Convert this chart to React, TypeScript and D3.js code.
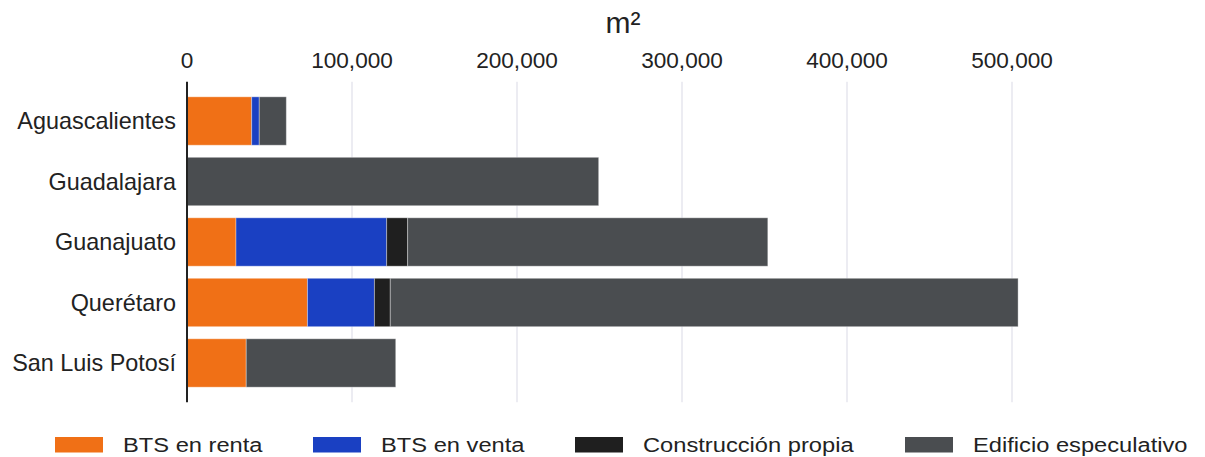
import React from "react";
import * as d3 from "d3";

const categories = ["Aguascalientes", "Guadalajara", "Guanajuato", "Querétaro", "San Luis Potosí"];
const seriesNames = ["BTS en renta", "BTS en venta", "Construcción propia", "Edificio especulativo"];
const btsRenta = [39200, 0, 29700, 73000, 35900];
const btsVenta = [4600, 0, 91300, 40600, 0];
const construccionPropia = [0, 0, 12700, 9600, 0];
const edificioEspeculativo = [16400, 249500, 218300, 380500, 90600];
const tickValues = [0, 100000, 200000, 300000, 400000, 500000];
const colors = ["#f07016", "#1a40c2", "#1f1f1f", "#4a4d50"];
const axisTitle = "m²";

export default function App() {
  const W = 1205, H = 457;
  const x = d3.scaleLinear().domain([0, 530000]).range([187, 1061.5]);
  const y = d3.scaleBand<string>().domain(categories).range([81.7, 402.3]).paddingInner(0.2).paddingOuter(0.25);
  const table = categories.map((c, i) => ({
    cat: c,
    s0: btsRenta[i],
    s1: btsVenta[i],
    s2: construccionPropia[i],
    s3: edificioEspeculativo[i],
  }));
  const stack = d3.stack<any>().keys(["s0", "s1", "s2", "s3"])(table);
  const fmt = d3.format(",");
  const font = "'Liberation Sans', Arial, sans-serif";
  const legendX = [55, 313, 575, 905];

  return (
    <svg width={W} height={H} style={{ position: "absolute", left: 0, top: 0, background: "#fff" }} fontFamily={font}>
      {tickValues.map((t) => (
        <g key={t}>
          {t > 0 && (
            <line x1={x(t)} x2={x(t)} y1={81.7} y2={402.3} stroke="#e6e6ee" strokeWidth={1.5} />
          )}
          <text x={x(t)} y={68.3} textAnchor="middle" fontSize={22.6} fill="#222">
            {fmt(t)}
          </text>
        </g>
      ))}
      <text x={623} y={33.3} textAnchor="middle" fontSize={30} fill="#222">
        {axisTitle}
      </text>
      {stack.map((layer, li) => (
        <g key={li} fill={colors[li]}>
          {layer.map((d, i) => {
            const w = x(d[1]) - x(d[0]);
            if (w <= 0) return null;
            return (
              <rect
                key={i}
                x={x(d[0])}
                y={y(categories[i])!}
                width={w}
                height={y.bandwidth()}
                stroke="rgba(255,255,255,0.35)"
                strokeWidth={1}
              />
            );
          })}
        </g>
      ))}
      <line x1={187} x2={187} y1={81.7} y2={402.3} stroke="#222" strokeWidth={2} />
      {categories.map((c) => (
        <text
          key={c}
          x={176}
          y={y(c)! + y.bandwidth() / 2}
          dy="0.35em"
          textAnchor="end"
          fontSize={23.4}
          fill="#222"
        >
          {c}
        </text>
      ))}
      {seriesNames.map((s, i) => (
        <g key={s} transform={`translate(${legendX[i]},0)`}>
          <rect x={0} y={437} width={48} height={15.5} fill={colors[i]} />
          <g transform="translate(68,452.3) scale(1.15,1)">
            <text x={0} y={0} fontSize={20.6} fill="#222">
              {s}
            </text>
          </g>
        </g>
      ))}
    </svg>
  );
}
